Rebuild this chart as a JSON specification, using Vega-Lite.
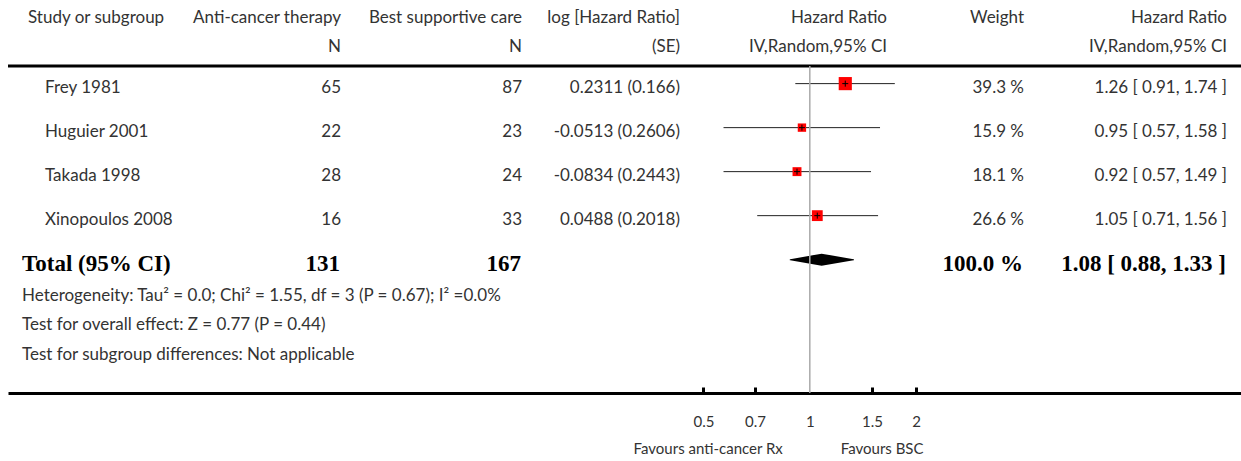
{
  "$schema": "https://vega.github.io/schema/vega-lite/v6.json",
  "width": 1233,
  "height": 393,
  "padding": {"left": 6, "top": 0, "right": 0, "bottom": 0},
  "background": "white",
  "config": {
    "view": {"stroke": null},
    "text": {"font": "Lato", "fontSize": 17, "color": "#333333", "baseline": "middle"}
  },
  "data": {"values": [{}]},
  "datasets": {
    "studies": [
      {"study": "Frey 1981", "n_trt": 65, "n_bsc": 87, "loghr_se": "0.2311 (0.166)", "hr": 1.26, "lo": 0.91, "hi": 1.74, "weight": 39.3, "weight_label": "39.3 %", "ci_label": "1.26 [ 0.91, 1.74 ]", "row": 1},
      {"study": "Huguier 2001", "n_trt": 22, "n_bsc": 23, "loghr_se": "-0.0513 (0.2606)", "hr": 0.95, "lo": 0.57, "hi": 1.58, "weight": 15.9, "weight_label": "15.9 %", "ci_label": "0.95 [ 0.57, 1.58 ]", "row": 2},
      {"study": "Takada 1998", "n_trt": 28, "n_bsc": 24, "loghr_se": "-0.0834 (0.2443)", "hr": 0.92, "lo": 0.57, "hi": 1.49, "weight": 18.1, "weight_label": "18.1 %", "ci_label": "0.92 [ 0.57, 1.49 ]", "row": 3},
      {"study": "Xinopoulos 2008", "n_trt": 16, "n_bsc": 33, "loghr_se": "0.0488 (0.2018)", "hr": 1.05, "lo": 0.71, "hi": 1.56, "weight": 26.6, "weight_label": "26.6 %", "ci_label": "1.05 [ 0.71, 1.56 ]", "row": 4}
    ],
    "total": [
      {"label": "Total (95% CI)", "n_trt": 131, "n_bsc": 167, "hr": 1.08, "lo": 0.88, "hi": 1.33, "weight_label": "100.0 %", "ci_label": "1.08 [ 0.88, 1.33 ]", "row": 5}
    ]
  },
  "layer": [
    {
      "layer": [
        {
          "mark": {"type": "text", "align": "left"},
          "encoding": {
            "x": {"datum": 28, "type": "quantitative", "scale": {"domain": [8, 1241], "nice": false, "zero": false}, "axis": null},
            "y": {"datum": -0.4911, "type": "quantitative", "scale": {"domain": [-0.9, 8.03], "reverse": true}, "axis": null},
            "text": {"value": "Study or subgroup"}
          }
        },
        {
          "mark": {"type": "text", "align": "right", "lineHeight": 29},
          "encoding": {
            "x": {"datum": 341, "type": "quantitative", "scale": {"domain": [8, 1241], "nice": false, "zero": false}, "axis": null},
            "y": {"datum": -0.4911, "type": "quantitative", "scale": {"domain": [-0.9, 8.03], "reverse": true}, "axis": null},
            "text": {"value": ["Anti-cancer therapy", "N"]}
          }
        },
        {
          "mark": {"type": "text", "align": "right", "lineHeight": 29},
          "encoding": {
            "x": {"datum": 522, "type": "quantitative", "scale": {"domain": [8, 1241], "nice": false, "zero": false}, "axis": null},
            "y": {"datum": -0.4911, "type": "quantitative", "scale": {"domain": [-0.9, 8.03], "reverse": true}, "axis": null},
            "text": {"value": ["Best supportive care", "N"]}
          }
        },
        {
          "mark": {"type": "text", "align": "right", "lineHeight": 29},
          "encoding": {
            "x": {"datum": 680, "type": "quantitative", "scale": {"domain": [8, 1241], "nice": false, "zero": false}, "axis": null},
            "y": {"datum": -0.4911, "type": "quantitative", "scale": {"domain": [-0.9, 8.03], "reverse": true}, "axis": null},
            "text": {"value": ["log [Hazard Ratio]", "(SE)"]}
          }
        },
        {
          "mark": {"type": "text", "align": "right", "lineHeight": 29},
          "encoding": {
            "x": {"datum": 887, "type": "quantitative", "scale": {"domain": [8, 1241], "nice": false, "zero": false}, "axis": null},
            "y": {"datum": -0.4911, "type": "quantitative", "scale": {"domain": [-0.9, 8.03], "reverse": true}, "axis": null},
            "text": {"value": ["Hazard Ratio", "IV,Random,95% CI"]}
          }
        },
        {
          "mark": {"type": "text", "align": "right"},
          "encoding": {
            "x": {"datum": 1024, "type": "quantitative", "scale": {"domain": [8, 1241], "nice": false, "zero": false}, "axis": null},
            "y": {"datum": -0.4911, "type": "quantitative", "scale": {"domain": [-0.9, 8.03], "reverse": true}, "axis": null},
            "text": {"value": "Weight"}
          }
        },
        {
          "mark": {"type": "text", "align": "right", "lineHeight": 29},
          "encoding": {
            "x": {"datum": 1227, "type": "quantitative", "scale": {"domain": [8, 1241], "nice": false, "zero": false}, "axis": null},
            "y": {"datum": -0.4911, "type": "quantitative", "scale": {"domain": [-0.9, 8.03], "reverse": true}, "axis": null},
            "text": {"value": ["Hazard Ratio", "IV,Random,95% CI"]}
          }
        },
        {
          "data": {"name": "studies"},
          "mark": {"type": "text", "align": "left", "dy": 4.5},
          "encoding": {
            "x": {"datum": 45, "type": "quantitative", "scale": {"domain": [8, 1241], "nice": false, "zero": false}, "axis": null},
            "y": {"field": "row", "type": "quantitative", "scale": {"domain": [-0.9, 8.03], "reverse": true}, "axis": null},
            "text": {"field": "study"}
          }
        },
        {
          "data": {"name": "studies"},
          "mark": {"type": "text", "align": "right", "dy": 4.5},
          "encoding": {
            "x": {"datum": 341, "type": "quantitative", "scale": {"domain": [8, 1241], "nice": false, "zero": false}, "axis": null},
            "y": {"field": "row", "type": "quantitative", "scale": {"domain": [-0.9, 8.03], "reverse": true}, "axis": null},
            "text": {"field": "n_trt"}
          }
        },
        {
          "data": {"name": "studies"},
          "mark": {"type": "text", "align": "right", "dy": 4.5},
          "encoding": {
            "x": {"datum": 522, "type": "quantitative", "scale": {"domain": [8, 1241], "nice": false, "zero": false}, "axis": null},
            "y": {"field": "row", "type": "quantitative", "scale": {"domain": [-0.9, 8.03], "reverse": true}, "axis": null},
            "text": {"field": "n_bsc"}
          }
        },
        {
          "data": {"name": "studies"},
          "mark": {"type": "text", "align": "right", "dy": 4.5},
          "encoding": {
            "x": {"datum": 680, "type": "quantitative", "scale": {"domain": [8, 1241], "nice": false, "zero": false}, "axis": null},
            "y": {"field": "row", "type": "quantitative", "scale": {"domain": [-0.9, 8.03], "reverse": true}, "axis": null},
            "text": {"field": "loghr_se"}
          }
        },
        {
          "data": {"name": "studies"},
          "mark": {"type": "text", "align": "right", "dy": 4.5},
          "encoding": {
            "x": {"datum": 1024, "type": "quantitative", "scale": {"domain": [8, 1241], "nice": false, "zero": false}, "axis": null},
            "y": {"field": "row", "type": "quantitative", "scale": {"domain": [-0.9, 8.03], "reverse": true}, "axis": null},
            "text": {"field": "weight_label"}
          }
        },
        {
          "data": {"name": "studies"},
          "mark": {"type": "text", "align": "right", "dy": 4.5},
          "encoding": {
            "x": {"datum": 1227, "type": "quantitative", "scale": {"domain": [8, 1241], "nice": false, "zero": false}, "axis": null},
            "y": {"field": "row", "type": "quantitative", "scale": {"domain": [-0.9, 8.03], "reverse": true}, "axis": null},
            "text": {"field": "ci_label"}
          }
        },
        {
          "data": {"name": "total"},
          "mark": {"type": "text", "align": "left", "dy": 4, "font": "Liberation Serif", "fontWeight": "bold", "fontSize": 23, "color": "#000000"},
          "encoding": {
            "x": {"datum": 22, "type": "quantitative", "scale": {"domain": [8, 1241], "nice": false, "zero": false}, "axis": null},
            "y": {"field": "row", "type": "quantitative", "scale": {"domain": [-0.9, 8.03], "reverse": true}, "axis": null},
            "text": {"field": "label"}
          }
        },
        {
          "data": {"name": "total"},
          "mark": {"type": "text", "align": "right", "dy": 4, "font": "Liberation Serif", "fontWeight": "bold", "fontSize": 23, "color": "#000000"},
          "encoding": {
            "x": {"datum": 340, "type": "quantitative", "scale": {"domain": [8, 1241], "nice": false, "zero": false}, "axis": null},
            "y": {"field": "row", "type": "quantitative", "scale": {"domain": [-0.9, 8.03], "reverse": true}, "axis": null},
            "text": {"field": "n_trt"}
          }
        },
        {
          "data": {"name": "total"},
          "mark": {"type": "text", "align": "right", "dy": 4, "font": "Liberation Serif", "fontWeight": "bold", "fontSize": 23, "color": "#000000"},
          "encoding": {
            "x": {"datum": 521, "type": "quantitative", "scale": {"domain": [8, 1241], "nice": false, "zero": false}, "axis": null},
            "y": {"field": "row", "type": "quantitative", "scale": {"domain": [-0.9, 8.03], "reverse": true}, "axis": null},
            "text": {"field": "n_bsc"}
          }
        },
        {
          "data": {"name": "total"},
          "mark": {"type": "text", "align": "right", "dy": 4, "font": "Liberation Serif", "fontWeight": "bold", "fontSize": 23, "color": "#000000"},
          "encoding": {
            "x": {"datum": 1023, "type": "quantitative", "scale": {"domain": [8, 1241], "nice": false, "zero": false}, "axis": null},
            "y": {"field": "row", "type": "quantitative", "scale": {"domain": [-0.9, 8.03], "reverse": true}, "axis": null},
            "text": {"field": "weight_label"}
          }
        },
        {
          "data": {"name": "total"},
          "mark": {"type": "text", "align": "right", "dy": 4, "font": "Liberation Serif", "fontWeight": "bold", "fontSize": 23, "color": "#000000"},
          "encoding": {
            "x": {"datum": 1226, "type": "quantitative", "scale": {"domain": [8, 1241], "nice": false, "zero": false}, "axis": null},
            "y": {"field": "row", "type": "quantitative", "scale": {"domain": [-0.9, 8.03], "reverse": true}, "axis": null},
            "text": {"field": "ci_label"}
          }
        },
        {
          "mark": {"type": "text", "align": "left", "lineHeight": 29.5},
          "encoding": {
            "x": {"datum": 22, "type": "quantitative", "scale": {"domain": [8, 1241], "nice": false, "zero": false}, "axis": null},
            "y": {"datum": 5.8258, "type": "quantitative", "scale": {"domain": [-0.9, 8.03], "reverse": true}, "axis": null},
            "text": {"value": ["Heterogeneity: Tau² = 0.0; Chi² = 1.55, df = 3 (P = 0.67); I² =0.0%", "Test for overall effect: Z = 0.77 (P = 0.44)", "Test for subgroup differences: Not applicable"]}
          }
        },
        {
          "mark": {"type": "rule", "color": "#000000", "strokeWidth": 3},
          "encoding": {
            "y": {"datum": 0.6, "type": "quantitative", "scale": {"domain": [-0.9, 8.03], "reverse": true}, "axis": null}
          }
        }
      ]
    },
    {
      "layer": [
        {
          "data": {"name": "studies"},
          "mark": {"type": "rule", "color": "#222222", "strokeWidth": 1},
          "encoding": {
            "x": {"field": "lo", "type": "quantitative", "scale": {"type": "log", "domain": [0.0053885, 16.595], "nice": false},
              "axis": {"orient": "bottom", "values": [0.5, 0.7, 1, 1.5, 2], "format": "~g", "title": null, "grid": false, "domainWidth": 3, "domainColor": "#000000", "tickWidth": 3, "tickSize": -6, "tickColor": {"condition": {"test": "datum.value === 1", "value": "transparent"}, "value": "#000000"}, "labelFont": "Lato", "labelFontSize": 15, "labelColor": "#333333", "labelPadding": 27}},
            "x2": {"field": "hi"},
            "y": {"field": "row", "type": "quantitative", "scale": {"domain": [-0.9, 8.03], "reverse": true}, "axis": null}
          }
        },
        {
          "data": {"name": "total"},
          "transform": [{"fold": ["lo", "hr", "hi"], "as": ["key", "value"]}],
          "mark": {"type": "trail", "color": "#000000"},
          "encoding": {
            "x": {"field": "value", "type": "quantitative", "scale": {"type": "log", "domain": [0.0053885, 16.595], "nice": false}},
            "y": {"datum": 5, "type": "quantitative", "scale": {"domain": [-0.9, 8.03], "reverse": true}, "axis": null},
            "size": {"field": "key", "type": "ordinal", "scale": {"type": "ordinal", "domain": ["lo", "hr", "hi"], "range": [0, 12, 0]}, "legend": null}
          }
        },
        {
          "data": {"name": "studies"},
          "mark": {"type": "square", "color": "#ff0000", "filled": true, "opacity": 1},
          "encoding": {
            "x": {"field": "hr", "type": "quantitative", "scale": {"type": "log", "domain": [0.0053885, 16.595], "nice": false}},
            "y": {"field": "row", "type": "quantitative", "scale": {"domain": [-0.9, 8.03], "reverse": true}, "axis": null},
            "size": {"field": "weight", "type": "quantitative", "scale": {"domain": [0, 40], "range": [0, 176]}, "legend": null}
          }
        },
        {
          "data": {"name": "studies"},
          "mark": {"type": "point", "shape": "M-1,0L1,0M0,-1L0,1", "filled": false, "stroke": "#000000", "strokeWidth": 1, "size": 36, "opacity": 1},
          "encoding": {
            "x": {"field": "hr", "type": "quantitative", "scale": {"type": "log", "domain": [0.0053885, 16.595], "nice": false}},
            "y": {"field": "row", "type": "quantitative", "scale": {"domain": [-0.9, 8.03], "reverse": true}, "axis": null}
          }
        },
        {
          "mark": {"type": "rule", "color": "#aaaaaa", "strokeWidth": 1.5},
          "encoding": {
            "x": {"datum": 1, "type": "quantitative", "scale": {"type": "log", "domain": [0.0053885, 16.595], "nice": false}},
            "y": {"datum": 0.6, "type": "quantitative", "scale": {"domain": [-0.9, 8.03], "reverse": true}, "axis": null},
            "y2": {"datum": 8.03}
          }
        },
        {
          "mark": {"type": "text", "align": "right", "dx": -27, "fontSize": 15},
          "encoding": {
            "x": {"datum": 1, "type": "quantitative", "scale": {"type": "log", "domain": [0.0053885, 16.595], "nice": false}},
            "y": {"datum": 9.3025, "type": "quantitative", "scale": {"domain": [-0.9, 8.03], "reverse": true}, "axis": null},
            "text": {"value": "Favours anti-cancer Rx"}
          }
        },
        {
          "mark": {"type": "text", "align": "left", "dx": 31, "fontSize": 15},
          "encoding": {
            "x": {"datum": 1, "type": "quantitative", "scale": {"type": "log", "domain": [0.0053885, 16.595], "nice": false}},
            "y": {"datum": 9.3025, "type": "quantitative", "scale": {"domain": [-0.9, 8.03], "reverse": true}, "axis": null},
            "text": {"value": "Favours BSC"}
          }
        }
      ],
      "resolve": {"scale": {"size": "independent"}}
    }
  ],
  "resolve": {"scale": {"x": "independent"}}
}
